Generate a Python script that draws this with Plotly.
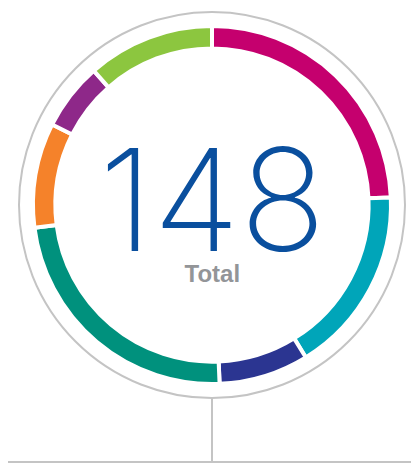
import plotly.graph_objects as go

# Data
categories = ["Magenta", "Cyan", "Navy", "Teal", "Orange", "Purple", "Green"]
values = [36, 25, 12, 35, 14, 9, 17]
colors = ["#c5006e", "#00a5b9", "#2b3591", "#00917d", "#f5822a", "#8e2889", "#8cc63f"]
total_label = "Total"

W, H = 411, 464
cx, cy = 212, 205  # pixel center (from top)
R = 179
ring_r = 193


def px_x(x):
    return x / W


def px_y(y):
    return (H - y) / H


fig = go.Figure(go.Pie(
    labels=categories,
    values=values,
    marker=dict(colors=colors, line=dict(color="white", width=4)),
    hole=0.875,
    sort=False,
    direction="clockwise",
    rotation=0,
    textinfo="none",
    hoverinfo="label+value",
    showlegend=False,
    domain=dict(x=[px_x(cx - R), px_x(cx + R)], y=[px_y(cy + R), px_y(cy - R)]),
))

fig.add_shape(type="circle", xref="paper", yref="paper",
              x0=px_x(cx - ring_r), x1=px_x(cx + ring_r),
              y0=px_y(cy + ring_r), y1=px_y(cy - ring_r),
              line=dict(color="#c4c4c4", width=2), layer="below")
fig.add_shape(type="line", xref="paper", yref="paper",
              x0=px_x(cx), x1=px_x(cx), y0=px_y(cy + ring_r), y1=px_y(462),
              line=dict(color="#c4c4c4", width=2))
fig.add_shape(type="line", xref="paper", yref="paper",
              x0=px_x(8), x1=1, y0=px_y(462), y1=px_y(462),
              line=dict(color="#c4c4c4", width=2))

center_text = (
    '<span style="font-size:142px;font-weight:200;font-family:Inter;color:#0a4f9e">'
    + str(sum(values)) + '</span><br><b>' + total_label + '</b>'
)
fig.add_annotation(x=px_x(cx), y=px_y(200), xref="paper", yref="paper",
                   text=center_text, showarrow=False,
                   font=dict(family="Liberation Sans", size=24, color="#939598"),
                   xanchor="center", yanchor="middle")

fig.update_layout(width=W, height=H, margin=dict(l=0, r=0, t=0, b=0),
                  paper_bgcolor="white", plot_bgcolor="white")

fig.write_html("out.html", config={"displayModeBar": False},
               post_script="document.body.style.margin='0';document.body.style.overflow='hidden';")
